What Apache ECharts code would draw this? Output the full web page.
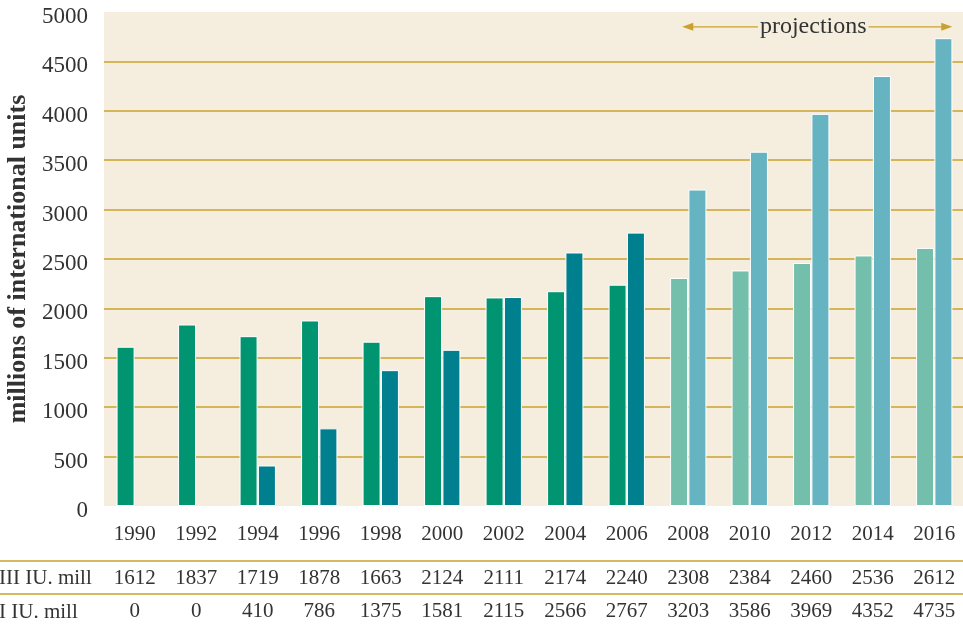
<!DOCTYPE html>
<html>
<head>
<meta charset="utf-8">
<script src="https://cdn.jsdelivr.net/npm/echarts@6/dist/echarts.min.js"></script>
<style>
  html, body { margin: 0; padding: 0; background: #fff; }
  #main { width: 963px; height: 628px; }
</style>
</head>
<body>
<div id="main"></div>
<script>
// data
const years = ['1990', '1992', '1994', '1996', '1998', '2000', '2002', '2004', '2006', '2008', '2010', '2012', '2014', '2016'];
const factorVIII = [1612, 1837, 1719, 1878, 1663, 2124, 2111, 2174, 2240, 2308, 2384, 2460, 2536, 2612];
const factorIX = [0, 0, 410, 786, 1375, 1581, 2115, 2566, 2767, 3203, 3586, 3969, 4352, 4735];
const rowLabels = ['III IU. mill', 'I IU. mill'];
const firstProjection = 9; // index of 2008

const serif = '"Liberation Serif", "DejaVu Serif", serif';
const txt = '#333';
const gold = '#c9a22e';
const cream = '#f5eddd';

const chart = echarts.init(document.getElementById('main'));

function tableAxis(values, offset) {
  return {
    type: 'category',
    data: values.map(String),
    position: 'bottom',
    offset: offset,
    axisLine: { show: false },
    axisTick: { show: false },
    axisLabel: { color: txt, fontFamily: serif, fontSize: 21, margin: 0, interval: 0 },
    splitLine: { show: false }
  };
}

// zero bars get no white outline
function barData(values) {
  return values.map(v => v === 0 ? { value: 0, itemStyle: { borderWidth: 0 } } : v);
}

chart.setOption({
  backgroundColor: '#fff',
  animation: false,
  grid: {
    left: 104,
    right: -2,
    top: 12,
    bottom: 122,
    outerBoundsMode: 'none',
    containLabel: false,
    show: true,
    backgroundColor: cream,
    borderWidth: 0
  },
  xAxis: [
    {
      type: 'category',
      data: years,
      axisLine: { show: false },
      axisTick: { show: false },
      axisLabel: { color: txt, fontFamily: serif, fontSize: 21, margin: 18, interval: 0 }
    },
    tableAxis(factorVIII, 62),
    tableAxis(factorIX, 95)
  ],
  yAxis: {
    type: 'value',
    min: 0,
    max: 5000,
    interval: 500,
    name: 'millions of international units',
    nameLocation: 'middle',
    nameGap: 71,
    nameTextStyle: { color: txt, fontFamily: serif, fontSize: 26, fontWeight: 'bold' },
    axisLine: { show: false },
    axisTick: { show: false },
    axisLabel: {
      color: txt, fontFamily: serif, fontSize: 23, margin: 16,
      verticalAlign: 'top', lineHeight: 10,
      formatter: v => String(v)
    },
    splitLine: { showMinLine: false, showMaxLine: false, lineStyle: { color: gold, width: 1.5 } }
  },
  series: [
    {
      name: 'Factor VIII',
      type: 'bar',
      data: barData(factorVIII),
      barWidth: 18,
      barGap: '2%',
      itemStyle: {
        borderColor: '#fff',
        borderWidth: 1,
        color: p => p.dataIndex >= firstProjection ? '#74bfab' : '#009570'
      }
    },
    {
      name: 'Factor IX',
      type: 'bar',
      data: barData(factorIX),
      barWidth: 18,
      itemStyle: {
        borderColor: '#fff',
        borderWidth: 1,
        color: p => p.dataIndex >= firstProjection ? '#66b3c1' : '#007f8f'
      }
    }
  ]
});

// table rules, row labels and the projections arrow
const rowY1 = chart.convertToPixel({ yAxisIndex: 0 }, 0) + 55;
const rowY2 = rowY1 + 33;
const xStart = chart.convertToPixel({ xAxisIndex: 0 }, years[firstProjection]) - 6;
const xEnd = chart.convertToPixel({ xAxisIndex: 0 }, years[years.length - 1]) + 18;
const arrowY = chart.convertToPixel({ yAxisIndex: 0 }, 4850);
const xMid = (xStart + xEnd) / 2;

function arrowHead(x, y, dir) {
  return {
    type: 'polygon',
    shape: { points: [[x, y], [x - dir * 11, y - 4], [x - dir * 11, y + 4]] },
    style: { fill: gold }
  };
}

chart.setOption({
  graphic: [
    { type: 'line', shape: { x1: 0, y1: rowY1, x2: 963, y2: rowY1 }, style: { stroke: gold, lineWidth: 1.5 } },
    { type: 'line', shape: { x1: 0, y1: rowY2, x2: 963, y2: rowY2 }, style: { stroke: gold, lineWidth: 1.5 } },
    { type: 'text', left: -1, top: rowY1 + 7, style: { text: rowLabels[0], fill: txt, font: '21px ' + serif } },
    { type: 'text', left: -1, top: rowY2 + 8, style: { text: rowLabels[1], fill: txt, font: '21px ' + serif } },
    { type: 'line', shape: { x1: xStart + 8, y1: arrowY, x2: xEnd - 8, y2: arrowY }, style: { stroke: gold, lineWidth: 1.2 } },
    arrowHead(xStart, arrowY, -1),
    arrowHead(xEnd, arrowY, 1),
    {
      type: 'text',
      x: xMid - 4,
      y: arrowY,
      style: {
        text: 'projections', fill: txt, font: '24px ' + serif,
        align: 'center', verticalAlign: 'middle',
        backgroundColor: cream, padding: [0, 2]
      }
    }
  ]
});
</script>
</body>
</html>
